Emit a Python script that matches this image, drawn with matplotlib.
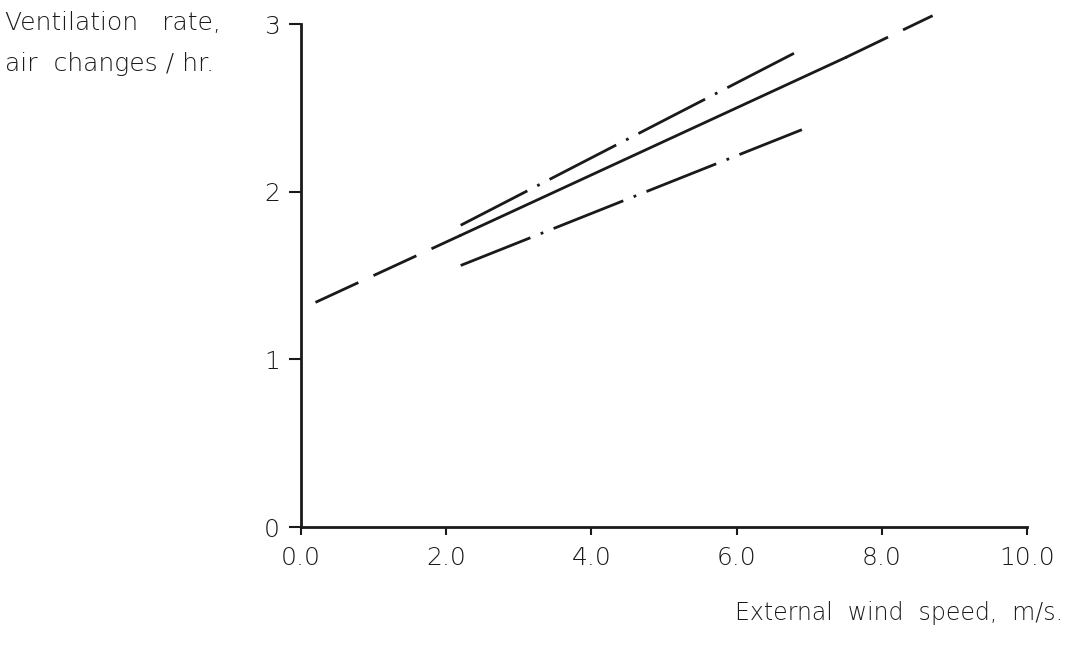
import matplotlib
matplotlib.use("Agg")
import matplotlib.pyplot as plt

# wind speed (m/s) and ventilation rate (air changes/hr)
mid_dash_lo_x = [0.2, 2.2]
mid_dash_lo_y = [1.34, 1.74]
mid_solid_x = [2.2, 7.5]
mid_solid_y = [1.74, 2.80]
mid_dash_hi_x = [7.5, 8.7]
mid_dash_hi_y = [2.80, 3.05]

upper_x = [2.2, 6.9]
upper_y = [1.80, 2.85]
lower_x = [2.2, 6.9]
lower_y = [1.56, 2.37]

x_ticks = [0, 2, 4, 6, 8, 10]
x_labels = ["0.0", "2.0", "4.0", "6.0", "8.0", "10.0"]
y_ticks = [0, 1, 2, 3]
y_labels = ["0", "1", "2", "3"]

ink = "#1a1a1a"
plt.rcParams["font.family"] = ["DejaVu Sans"]
plt.rcParams["font.weight"] = "light"

fig = plt.figure(figsize=(10.68, 6.45), dpi=100)
ax = fig.add_axes([0.2818, 0.1829, 0.6798, 0.7798])

ax.plot(mid_dash_lo_x, mid_dash_lo_y, color=ink, lw=2, dashes=(17, 6), clip_on=False)
ax.plot(mid_solid_x, mid_solid_y, color=ink, lw=2, clip_on=False)
ax.plot(mid_dash_hi_x, mid_dash_hi_y, color=ink, lw=2, dashes=(17, 6), clip_on=False)
ax.plot(upper_x, upper_y, color=ink, lw=2, dashes=(27, 4, 1, 4), clip_on=False)
ax.plot(lower_x, lower_y, color=ink, lw=2, dashes=(27, 4, 1, 4), clip_on=False)

ax.set_xlim(0, 10)
ax.set_ylim(0, 3)
for side in ["top", "right"]:
    ax.spines[side].set_visible(False)
for side in ["left", "bottom"]:
    ax.spines[side].set_linewidth(2)
    ax.spines[side].set_color(ink)

ax.set_xticks(x_ticks)
ax.set_xticklabels(x_labels)
ax.set_yticks(y_ticks)
ax.set_yticklabels(y_labels)
ax.tick_params(axis="x", direction="out", length=6, width=1.5, colors=ink,
               labelsize=18, pad=8)
ax.tick_params(axis="y", direction="out", length=9, width=1.5, colors=ink,
               labelsize=18, pad=6)

fig.text(0.005, 0.965, "Ventilation   rate,", fontsize=18, color=ink,
         ha="left", va="center")
fig.text(0.005, 0.900, "air  changes / hr.", fontsize=18, color=ink,
         ha="left", va="center")
fig.text(0.995, 0.05, "External  wind  speed,  m/s.", fontsize=17, color=ink,
         ha="right", va="center")

fig.savefig("out.png", dpi=100)
